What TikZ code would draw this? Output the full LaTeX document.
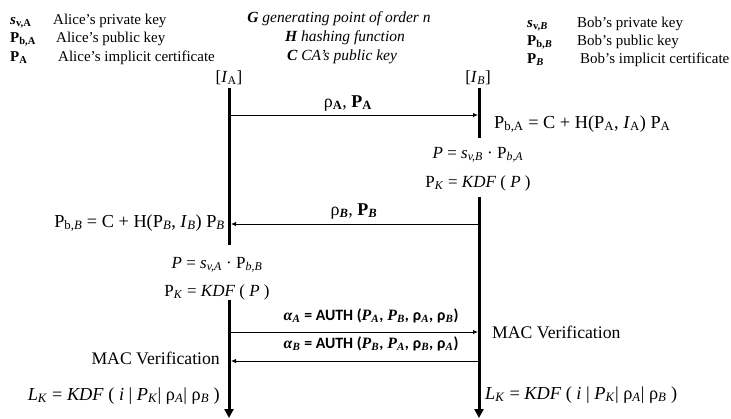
\documentclass[tikz,border=0pt]{standalone}
\usepackage{fontspec}
\setmainfont{Liberation Serif}
\newfontfamily\carl{Carlito}
\usetikzlibrary{arrows.meta}
\newcommand\sbs[1]{\textsubscript{#1}}
\newcommand\bi[1]{\textbf{\textit{#1}}}
\newcommand\cb[1]{{\carl\bfseries #1}}
\begin{document}
\begin{tikzpicture}[x=1pt,y=-1pt,
  life/.style={line width=3pt},
  lifeend/.style={line width=3pt,-{Triangle[length=9pt,width=9pt]}},
  msg/.style={line width=0.9pt,-{Latex[length=5pt,width=4.5pt]}},
  leg/.style={font=\fontsize{15}{17}\selectfont, inner sep=0pt},
  ctr/.style={font=\fontsize{15.5}{18}\selectfont\itshape, inner sep=0pt},
  eq/.style={font=\fontsize{17}{20}\selectfont, inner sep=0pt},
  eqw/.style={font=\fontsize{18.3}{21}\selectfont, inner sep=0pt},
  mac/.style={font=\fontsize{17.7}{20}\selectfont, inner sep=0pt},
  labr/.style={font=\fontsize{18}{20}\selectfont, inner sep=0pt},
  lab/.style={font=\fontsize{15.8}{18}\selectfont, inner sep=0pt},
]
\useasboundingbox (0,0) rectangle (731,418);
% legend left
\node[leg,anchor=base west] (sA) at (10,24) {\bi{s}\sbs{\textbf{v,A}}};
\node[leg,anchor=base west] (sAt) at (53,24) {Alice’s private key};
\node[leg,anchor=base west] (pA) at (10,42) {\textbf{P}\sbs{\textbf{b,A}}};
\node[leg,anchor=base west] (pAt) at (56,42) {Alice’s public key};
\node[leg,anchor=base west] (cA) at (10,61) {\textbf{P}\sbs{\textbf{A}}};
\node[leg,anchor=base west] (cAt) at (58,61) {Alice’s implicit certificate};
% legend centre
\node[ctr,anchor=base] (G) at (339,22) {\textbf{G} generating point of order n};
\node[ctr,anchor=base] (H) at (345,41) {\textbf{H} hashing function};
\node[ctr,anchor=base] (C) at (342,60) {\textbf{C} CA’s public key};
% legend right
\node[leg,anchor=base west] (sB) at (527,27) {\bi{s}\sbs{\textbf{v,\textit{B}}}};
\node[leg,anchor=base west] (sBt) at (577,27) {Bob’s private key};
\node[leg,anchor=base west] (pB) at (527,45) {\textbf{P}\sbs{\textbf{b,\textit{B}}}};
\node[leg,anchor=base west] (pBt) at (577,45) {Bob’s public key};
\node[leg,anchor=base west] (cB) at (527,63) {\textbf{P}\sbs{\textbf{\textit{B}}}};
\node[leg,anchor=base west] (cBt) at (580,63) {Bob’s implicit certificate};
% heads
\node[eq,anchor=base] (IA) at (229,82) {[\textit{I}\sbs{A}]};
\node[eq,anchor=base] (IB) at (478,82) {[\textit{I}\sbs{\textit{B}}]};
% lifelines
\coordinate (a0) at (229,88);
\coordinate (a1) at (229,245);
\coordinate (a2) at (229,300);
\coordinate (a3) at (229,418);
\coordinate (b0) at (479,88);
\coordinate (b1) at (479,138);
\coordinate (b2) at (479,197);
\coordinate (b3) at (479,418);
\draw[life] (a0) -- (a1);
\draw[lifeend] (a2) -- (a3);
\draw[life] (b0) -- (b1);
\draw[lifeend] (b2) -- (b3);
% messages
\coordinate (m1a) at (229,115); \coordinate (m1b) at (478,115);
\coordinate (m2b) at (479,224); \coordinate (m2a) at (231,224);
\coordinate (m3a) at (229,332); \coordinate (m3b) at (478,332);
\coordinate (m4b) at (479,361); \coordinate (m4a) at (231,361);
\draw[msg] (m1a) -- (m1b);
\draw[msg] (m2b) -- (m2a);
\draw[msg] (m3a) -- (m3b);
\draw[msg] (m4b) -- (m4a);
\node[labr,anchor=base] (l1) at (348,107) {ρ\sbs{\textbf{A}}, \textbf{P}\sbs{\textbf{A}}};
\node[labr,anchor=base] (l2) at (354,215) {ρ\sbs{\bi{B}}, \textbf{P}\sbs{\bi{B}}};
\node[lab,anchor=base] (l3) at (371,320) {\bi{α}\sbs{\bi{A}} \cb{= AUTH (}\bi{P}\sbs{\bi{A}}\cb{,} \bi{P}\sbs{\bi{B}}\cb{,} \cb{ρ}\sbs{\bi{A}}\cb{,} \cb{ρ}\sbs{\bi{B}}\cb{)}};
\node[lab,anchor=base] (l4) at (371,348) {\bi{α}\sbs{\bi{B}} \cb{= AUTH (}\bi{P}\sbs{\bi{B}}\cb{,} \bi{P}\sbs{\bi{A}}\cb{,} \cb{ρ}\sbs{\bi{B}}\cb{,} \cb{ρ}\sbs{\bi{A}}\cb{)}};
% Bob computations
\node[eqw,anchor=base west] (eB1) at (494,128) {P\sbs{b,A} = C + H(P\sbs{A}, \textit{I}\sbs{A}) P\sbs{A}};
\node[eq,anchor=base] (eB2) at (478,158) {\textit{P} = \textit{s}\sbs{\textit{v,B}} · P\sbs{\textit{b,A}}};
\node[eq,anchor=base] (eB3) at (478,187) {P\sbs{\textit{K}} = \textit{KDF} ( \textit{P} )};
% Alice computations
\node[eqw,anchor=base east] (eA1) at (225,227) {P\sbs{b,\textit{B}} = C + H(P\sbs{\textit{B}}, \textit{I}\sbs{\textit{B}}) P\sbs{\textit{B}}};
\node[eq,anchor=base] (eA2) at (217,268) {\textit{P} = \textit{s}\sbs{\textit{v,A}} · P\sbs{\textit{b,B}}};
\node[eq,anchor=base] (eA3) at (217,296) {P\sbs{\textit{K}} = \textit{KDF} ( \textit{P} )};
% verification
\node[mac,anchor=base west] (macB) at (492,338) {MAC Verification};
\node[mac,anchor=base east] (macA) at (220,364) {MAC Verification};
\node[eqw,anchor=base east] (lA) at (220,400) {\textit{L}\sbs{\textit{K}} = \textit{KDF} ( \textit{i} | \textit{P}\sbs{\textit{K}}| ρ\sbs{\textit{A}}| ρ\sbs{\textit{B}} )};
\node[eqw,anchor=base west] (lB) at (485,399) {\textit{L}\sbs{\textit{K}} = \textit{KDF} ( \textit{i} | \textit{P}\sbs{\textit{K}}| ρ\sbs{\textit{A}}| ρ\sbs{\textit{B}} )};
\end{tikzpicture}
\end{document}
